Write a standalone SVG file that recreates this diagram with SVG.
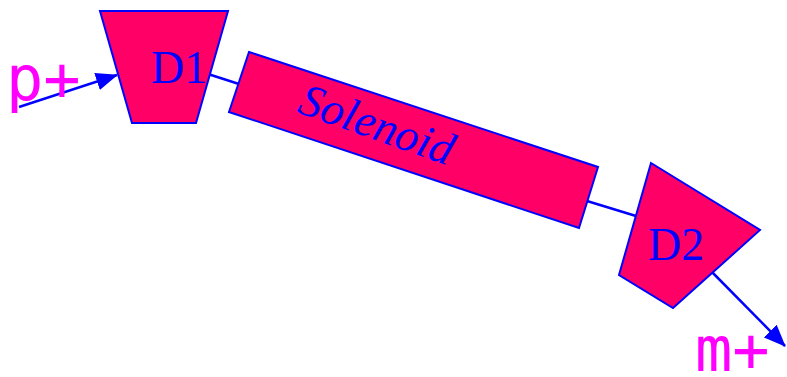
<svg xmlns="http://www.w3.org/2000/svg" width="787" height="377" viewBox="0 0 787 377">
<style>
.shape{fill:#FF0066;stroke:#0000FF;stroke-width:2;stroke-linejoin:miter}
.lbl{font-family:"Liberation Serif","Times New Roman",serif;font-size:46px;fill:#0000FF}
.pm{font-family:"DejaVu Sans Mono","Liberation Mono",monospace;font-size:62px;fill:#FF00FF}
.conn{stroke:#0000FF;stroke-width:2.5;fill:none}
</style>
<defs>
<marker id="arr" markerWidth="23" markerHeight="19" refX="21" refY="9" orient="auto" markerUnits="userSpaceOnUse">
<path d="M0,0 L22,9 L0,18 z" fill="#0000FF"/>
</marker>
</defs>
<g id="connectors">
<line class="conn" x1="19" y1="107" x2="117" y2="75" marker-end="url(#arr)"/>
<line class="conn" x1="208" y1="74" x2="239" y2="84"/>
<line class="conn" x1="587" y1="201" x2="636" y2="216"/>
<line class="conn" x1="708" y1="268" x2="785" y2="346" marker-end="url(#arr)"/>
</g>
<g id="p-plus"><text class="pm" x="6" y="100">p+</text></g>
<g id="D1">
<polygon class="shape" points="100,11 228,11 196,123 132,123"/>
<text class="lbl" x="151" y="83">D1</text>
</g>
<g id="Solenoid">
<polygon class="shape" points="249,52 598,167 579,228 229,112"/>
<text class="lbl" font-size="48" font-style="italic" transform="translate(296,112) rotate(19.5)">Solenoid</text>
</g>
<g id="D2">
<polygon class="shape" points="651,163 760,230 673,308 619,275"/>
<text class="lbl" x="648" y="260">D2</text>
</g>
<g id="m-plus"><text class="pm" x="695" y="371">m+</text></g>
</svg>
